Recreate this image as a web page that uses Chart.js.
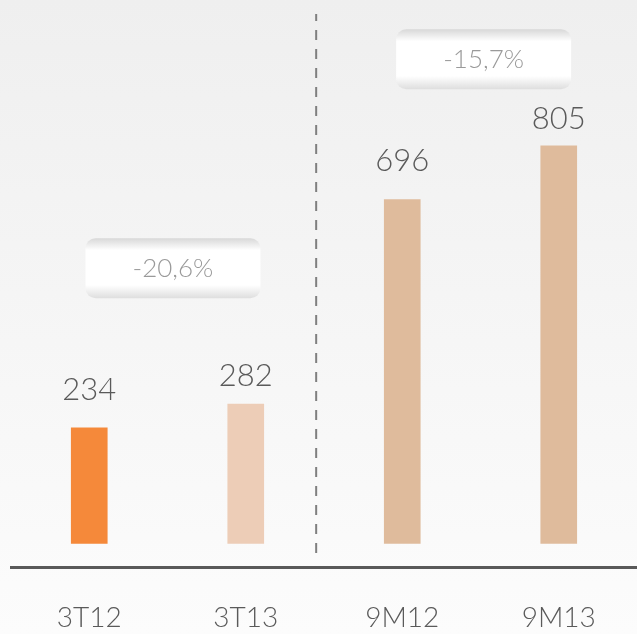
<!DOCTYPE html>
<html>
<head>
<meta charset="utf-8">
<script src="https://cdn.jsdelivr.net/npm/chart.js@4"></script>
<style>
  html, body { margin: 0; padding: 0; }
  body {
    width: 637px; height: 634px; overflow: hidden;
    background: linear-gradient(#efefef, #fcfcfc);
  }
  #wrap { width: 637px; height: 634px; }
</style>
</head>
<body>
<div id="wrap"><canvas id="myBarChart"></canvas></div>
<script>
const categories = ['3T12', '3T13', '9M12', '9M13'];
const values = [234, 282, 696, 805];
const barColors = ['#f5893a', '#edcdb7', '#dfbb9c', '#dfbb9c'];
const changeLabels = ['-20,6%', '-15,7%'];
// where each change box sits, in chart units (category index, value)
const changeAnchors = [[0.535, 557], [2.52, 980]];
const labelGap = [28, 18, 29, 17];
const separatorAt = 1.45;

const FONT = 'Lato, "Open Sans", sans-serif';

const overlayPlugin = {
  id: 'overlay',
  afterDatasetsDraw(chart) {
    const ctx = chart.ctx;
    const x = chart.scales.x, y = chart.scales.y;
    const area = chart.chartArea;

    // dashed separator between the quarter and nine-month groups
    ctx.save();
    ctx.strokeStyle = '#7f7f7f';
    ctx.lineWidth = 2;
    ctx.setLineDash([10, 9]);
    ctx.lineDashOffset = 3;
    const sx = x.getPixelForValue(separatorAt);
    ctx.beginPath();
    ctx.moveTo(sx, 14);
    ctx.lineTo(sx, area.bottom - 10);
    ctx.stroke();
    ctx.restore();

    // value labels above bars
    const meta = chart.getDatasetMeta(0);
    ctx.save();
    ctx.fillStyle = '#5a5a5a';
    ctx.font = '300 31px ' + FONT;
    ctx.textAlign = 'center';
    ctx.textBaseline = 'alphabetic';
    meta.data.forEach((bar, i) => {
      ctx.fillText(values[i], bar.x, bar.y - labelGap[i]);
    });
    ctx.restore();

    // percentage change boxes
    changeLabels.forEach((txt, i) => {
      const cx = x.getPixelForValue(changeAnchors[i][0]);
      const cy = y.getPixelForValue(changeAnchors[i][1]);
      const w = 175, h = 60, r = 10;
      const left = cx - w / 2, top = cy - h / 2;
      ctx.save();
      const g = ctx.createLinearGradient(0, top, 0, top + h);
      g.addColorStop(0, '#d8d8d8');
      g.addColorStop(0.2, '#ffffff');
      g.addColorStop(0.78, '#ffffff');
      g.addColorStop(1, '#dedede');
      ctx.fillStyle = g;
      ctx.beginPath();
      ctx.roundRect(left, top, w, h, r);
      ctx.fill();
      ctx.fillStyle = '#9a9a9a';
      ctx.font = '300 26px ' + FONT;
      ctx.textAlign = 'center';
      ctx.textBaseline = 'middle';
      ctx.fillText(txt, cx, cy);
      ctx.restore();
    });
  }
};

function createChart() {
  const ctx = document.getElementById('myBarChart').getContext('2d');
  new Chart(ctx, {
    type: 'bar',
    data: {
      labels: categories,
      datasets: [{
        data: values,
        backgroundColor: barColors,
        borderWidth: 0,
        barThickness: 36
      }]
    },
    options: {
      responsive: true,
      maintainAspectRatio: false,
      animation: false,
      layout: { padding: { left: 11, right: -2, top: 0, bottom: -35 } },
      scales: {
        x: {
          grid: { display: false, drawTicks: false },
          border: { color: '#595959', width: 3 },
          ticks: {
            color: '#5a5a5a',
            padding: 34,
            font: { family: FONT, size: 28, weight: 300 }
          }
        },
        y: {
          display: false,
          min: -48.6,
          max: 1100
        }
      },
      plugins: {
        legend: { display: false },
        tooltip: { enabled: false }
      }
    },
    plugins: [overlayPlugin]
  });
}

window.onload = createChart;
</script>
</body>
</html>
